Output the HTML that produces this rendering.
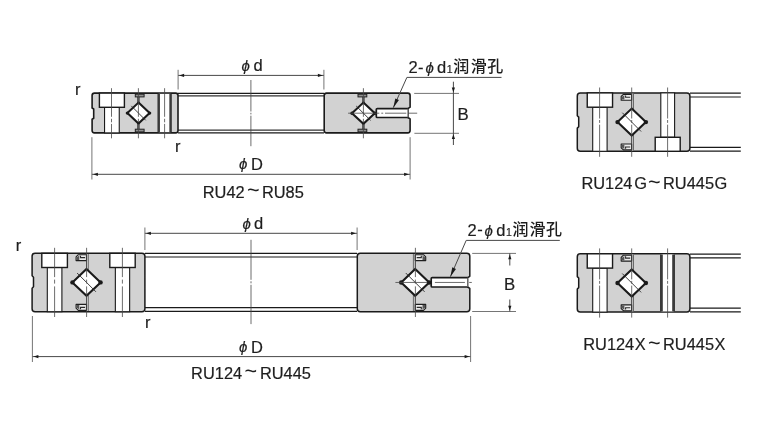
<!DOCTYPE html>
<html lang="zh">
<head>
<meta charset="utf-8">
<title>RU bearing structure</title>
<style>
html,body{margin:0;padding:0;background:#fff;}
body{width:768px;height:431px;overflow:hidden;}
svg{display:block;will-change:transform;}
svg text{font-family:"Liberation Sans","Noto Sans CJK SC",sans-serif;fill:#1e1e1e;stroke:#1e1e1e;stroke-width:0.2px;stroke-linejoin:round;}
</style>
</head>
<body>
<svg width="768" height="431" viewBox="0 0 768 431">
<rect width="768" height="431" fill="#fff"/>
<g id="ru42">
<line x1="178" y1="93.3" x2="324" y2="93.3" stroke="#1a1a1a" stroke-width="1.2"/>
<line x1="178" y1="95.8" x2="324" y2="95.8" stroke="#333" stroke-width="1.2"/>
<line x1="178" y1="130.2" x2="324" y2="130.2" stroke="#333" stroke-width="1.2"/>
<line x1="178" y1="132.8" x2="324" y2="132.8" stroke="#1a1a1a" stroke-width="1.2"/>
<path d="M94.4,93.1 H175.7 Q178,93.1 178,95.4 V130.6 Q178,132.9 175.7,132.9 H94.4 Q92.1,132.9 92.1,130.6 V119.2 L93.7,118.2 V109 L92.1,108 V95.4 Q92.1,93.1 94.4,93.1 Z" fill="#d2d2d2" stroke="#1a1a1a" stroke-width="1.6" stroke-linejoin="round"/>
<rect x="104.55" y="107.3" width="14.7" height="25.6" fill="#fff" stroke="#1a1a1a" stroke-width="1.1"/>
<rect x="99.4" y="93.1" width="25" height="14.2" fill="#fff" stroke="#1a1a1a" stroke-width="1.4"/>
<rect x="158.7" y="93.8" width="11.9" height="38.4" fill="#fff"/>
<line x1="158.7" y1="93.8" x2="158.7" y2="132.2" stroke="#3a3a3a" stroke-width="2.5"/>
<line x1="170.6" y1="93.8" x2="170.6" y2="132.2" stroke="#3a3a3a" stroke-width="2.5"/>
<rect x="137.5" y="96.5" width="1.8" height="33" fill="#8c8c8c"/>
<line x1="137.5" y1="96.5" x2="137.5" y2="129.5" stroke="#3a3a3a" stroke-width="0.7"/>
<line x1="139.3" y1="96.5" x2="139.3" y2="129.5" stroke="#3a3a3a" stroke-width="0.7"/>
<rect x="135.3" y="94.2" width="8.8" height="2.7" fill="#909090" stroke="#222" stroke-width="1"/>
<rect x="135.3" y="129.2" width="8.8" height="2.7" fill="#909090" stroke="#222" stroke-width="1"/>
<path d="M138.5,102.6 L149.6,113.1 L138.5,123.6 L127.4,113.1 Z" fill="#fff" stroke="#1a1a1a" stroke-width="2.1" stroke-linejoin="miter"/>
<circle cx="127.4" cy="113.1" r="1.7" fill="#1a1a1a"/><circle cx="149.6" cy="113.1" r="1.7" fill="#1a1a1a"/>
<line x1="131.3" y1="105.9" x2="145.7" y2="120.3" stroke="#2a2a2a" stroke-width="0.9"/>
<path d="M326.5,93.1 H407.8 Q410.1,93.1 410.1,95.4 V107.2 L407.9,108.6 V117.5 L410.1,118.9 V130.6 Q410.1,132.9 407.8,132.9 H326.5 Q324.2,132.9 324.2,130.6 V95.4 Q324.2,93.1 326.5,93.1 Z" fill="#d2d2d2" stroke="#1a1a1a" stroke-width="1.6" stroke-linejoin="round"/>
<rect x="376.3" y="108.6" width="31.6" height="8.9" fill="#fff"/>
<path d="M407.9,108.6 H377.3 Q376.3,108.6 376.3,109.6 V116.5 Q376.3,117.5 377.3,117.5 H407.9" fill="none" stroke="#1a1a1a" stroke-width="1.7"/>
<line x1="407.9" y1="108.6" x2="407.9" y2="117.5" stroke="#555" stroke-width="0.8"/>
<rect x="362.5" y="96.5" width="1.8" height="33" fill="#8c8c8c"/>
<line x1="362.5" y1="96.5" x2="362.5" y2="129.5" stroke="#3a3a3a" stroke-width="0.7"/>
<line x1="364.3" y1="96.5" x2="364.3" y2="129.5" stroke="#3a3a3a" stroke-width="0.7"/>
<rect x="358" y="94.2" width="8.8" height="2.7" fill="#909090" stroke="#222" stroke-width="1"/>
<rect x="358" y="129.2" width="8.8" height="2.7" fill="#909090" stroke="#222" stroke-width="1"/>
<path d="M363.4,102.6 L374.8,113.2 L363.4,123.8 L352,113.2 Z" fill="#fff" stroke="#1a1a1a" stroke-width="2.1" stroke-linejoin="miter"/>
<circle cx="352" cy="113.2" r="1.7" fill="#1a1a1a"/><circle cx="374.8" cy="113.2" r="1.7" fill="#1a1a1a"/>
<line x1="356.2" y1="106" x2="370.6" y2="120.4" stroke="#2a2a2a" stroke-width="0.9"/>
<line x1="111.5" y1="88.2" x2="111.5" y2="138.3" stroke="#484848" stroke-width="0.8" stroke-dasharray="28.6 2 3.5 1.6 20"/>
<line x1="138.4" y1="88.2" x2="138.4" y2="138.3" stroke="#484848" stroke-width="0.8" stroke-dasharray="28.6 2 3.5 1.6 20"/>
<line x1="164.6" y1="88.2" x2="164.6" y2="138.3" stroke="#484848" stroke-width="0.8" stroke-dasharray="28.6 2 3.5 1.6 20"/>
<line x1="363.4" y1="88.2" x2="363.4" y2="138.3" stroke="#484848" stroke-width="0.8" stroke-dasharray="28.6 2 3.5 1.6 20"/>
<line x1="348.1" y1="113.2" x2="417.2" y2="113.2" stroke="#484848" stroke-width="0.8" stroke-dasharray="31.2 2 1.9 1.8 21.3 1.9 9"/>
<line x1="250.9" y1="80" x2="250.9" y2="146.2" stroke="#484848" stroke-width="0.8" stroke-dasharray="31.5 1.3 1.6 1.3"/>
</g>
<g id="ru124">
<line x1="145" y1="253.3" x2="357" y2="253.3" stroke="#1a1a1a" stroke-width="1.2"/>
<line x1="145" y1="257" x2="357" y2="257" stroke="#1a1a1a" stroke-width="1.2"/>
<line x1="145" y1="307.6" x2="357" y2="307.6" stroke="#1a1a1a" stroke-width="1.2"/>
<line x1="145" y1="311.3" x2="357" y2="311.3" stroke="#1a1a1a" stroke-width="1.2"/>
<path d="M35.1,253.3 H141.9 Q144.9,253.3 144.9,256.3 V308.7 Q144.9,311.7 141.9,311.7 H35.1 Q32.1,311.7 32.1,308.7 V288.2 L33.5,286.8 V277.2 L32.1,275.8 V256.3 Q32.1,253.3 35.1,253.3 Z" fill="#d2d2d2" stroke="#1a1a1a" stroke-width="1.5" stroke-linejoin="round"/>
<rect x="47.3" y="267.5" width="14.6" height="44.2" fill="#fff" stroke="#1a1a1a" stroke-width="1.1"/>
<rect x="41.8" y="253.3" width="25.6" height="14.2" fill="#fff" stroke="#1a1a1a" stroke-width="1.4"/>
<rect x="115.35" y="267.5" width="14.3" height="44.2" fill="#fff" stroke="#1a1a1a" stroke-width="1.1"/>
<rect x="109.8" y="253.3" width="25.4" height="14.2" fill="#fff" stroke="#1a1a1a" stroke-width="1.4"/>
<rect x="86.5" y="254" width="1.8" height="57" fill="#dedede"/>
<line x1="86.5" y1="254" x2="86.5" y2="311" stroke="#3a3a3a" stroke-width="0.7"/>
<line x1="88.3" y1="254" x2="88.3" y2="311" stroke="#3a3a3a" stroke-width="0.7"/>
<path d="M86.5,254.7 H78.3 L76.1,256.8 V260.6 H86.5 Z" fill="#ececec" stroke="#1e1e1e" stroke-width="1.15" stroke-linejoin="round"/>
<path d="M79.3,255.6 L76.8,257.2 V260 H79.3 Z" fill="#555"/>
<path d="M85.1,257.6 H80.5 V255.8" fill="none" stroke="#2a2a2a" stroke-width="1.1"/>
<path d="M86.5,310.3 H78.3 L76.1,308.2 V304.4 H86.5 Z" fill="#ececec" stroke="#1e1e1e" stroke-width="1.15" stroke-linejoin="round"/>
<path d="M79.3,309.4 L76.8,307.8 V305 H79.3 Z" fill="#555"/>
<path d="M85.1,307.4 H80.5 V309.2" fill="none" stroke="#2a2a2a" stroke-width="1.1"/>
<path d="M86.5,269 L100.6,282.4 L86.5,295.8 L72.4,282.4 Z" fill="#fff" stroke="#1a1a1a" stroke-width="2.1" stroke-linejoin="miter"/>
<circle cx="72.4" cy="282.4" r="2.2" fill="#1a1a1a"/><circle cx="100.6" cy="282.4" r="2.2" fill="#1a1a1a"/>
<line x1="77.1" y1="273" x2="95.9" y2="291.8" stroke="#2a2a2a" stroke-width="0.9"/>
<path d="M360.3,253.3 H466.8 Q469.8,253.3 469.8,256.3 V276.3 L467.6,277.7 V287 L469.8,288.4 V308.7 Q469.8,311.7 466.8,311.7 H360.3 Q357.3,311.7 357.3,308.7 V256.3 Q357.3,253.3 360.3,253.3 Z" fill="#d2d2d2" stroke="#1a1a1a" stroke-width="1.5" stroke-linejoin="round"/>
<rect x="431.2" y="277.7" width="36.4" height="9.3" fill="#fff"/>
<path d="M467.6,277.7 H432.2 Q431.2,277.7 431.2,278.7 V286 Q431.2,287 432.2,287 H467.6" fill="none" stroke="#1a1a1a" stroke-width="1.7"/>
<line x1="467.6" y1="277.7" x2="467.6" y2="287" stroke="#555" stroke-width="0.8"/>
<rect x="413.4" y="254" width="1.9" height="57" fill="#dedede"/>
<line x1="413.4" y1="254" x2="413.4" y2="311" stroke="#3a3a3a" stroke-width="0.7"/>
<line x1="415.3" y1="254" x2="415.3" y2="311" stroke="#3a3a3a" stroke-width="0.7"/>
<path d="M415.3,254.7 H423.5 L425.7,256.8 V260.6 H415.3 Z" fill="#ececec" stroke="#1e1e1e" stroke-width="1.15" stroke-linejoin="round"/>
<path d="M422.5,255.6 L425,257.2 V260 H422.5 Z" fill="#555"/>
<path d="M416.7,257.6 H421.3 V255.8" fill="none" stroke="#2a2a2a" stroke-width="1.1"/>
<path d="M415.3,310.3 H423.5 L425.7,308.2 V304.4 H415.3 Z" fill="#ececec" stroke="#1e1e1e" stroke-width="1.15" stroke-linejoin="round"/>
<path d="M422.5,309.4 L425,307.8 V305 H422.5 Z" fill="#555"/>
<path d="M416.7,307.4 H421.3 V309.2" fill="none" stroke="#2a2a2a" stroke-width="1.1"/>
<path d="M415.2,269.05 L429.2,282.45 L415.2,295.85 L401.2,282.45 Z" fill="#fff" stroke="#1a1a1a" stroke-width="2.1" stroke-linejoin="miter"/>
<circle cx="401.2" cy="282.45" r="2.2" fill="#1a1a1a"/><circle cx="429.2" cy="282.45" r="2.2" fill="#1a1a1a"/>
<line x1="405.8" y1="273.05" x2="424.6" y2="291.85" stroke="#2a2a2a" stroke-width="0.9"/>
<line x1="54.6" y1="247.8" x2="54.6" y2="317" stroke="#484848" stroke-width="0.8" stroke-dasharray="29.3 2.5 4 2.8 40"/>
<line x1="86.6" y1="247.8" x2="86.6" y2="317" stroke="#484848" stroke-width="0.8" stroke-dasharray="29.3 2.5 4 2.8 40"/>
<line x1="122.4" y1="247.8" x2="122.4" y2="317" stroke="#484848" stroke-width="0.8" stroke-dasharray="29.3 2.5 4 2.8 40"/>
<line x1="415.4" y1="247.8" x2="415.4" y2="317" stroke="#484848" stroke-width="0.8" stroke-dasharray="29.3 2.5 4 2.8 40"/>
<line x1="395.4" y1="282.45" x2="471.8" y2="282.45" stroke="#484848" stroke-width="0.8" stroke-dasharray="31.6 7.9 30 4.3 2.6"/>
<line x1="251" y1="239.8" x2="251" y2="324.1" stroke="#484848" stroke-width="0.8" stroke-dasharray="40 1.5 2 1.5"/>
</g>
<g id="ru124g">
<line x1="690" y1="93.2" x2="740.8" y2="93.2" stroke="#1a1a1a" stroke-width="1.2"/>
<line x1="690" y1="97" x2="740.8" y2="97" stroke="#1a1a1a" stroke-width="1.2"/>
<line x1="690" y1="147.4" x2="740.8" y2="147.4" stroke="#1a1a1a" stroke-width="1.2"/>
<line x1="690" y1="151.1" x2="740.8" y2="151.1" stroke="#1a1a1a" stroke-width="1.2"/>
<path d="M580.3,92.9 H686.9 Q689.9,92.9 689.9,95.9 V148.3 Q689.9,151.3 686.9,151.3 H580.3 Q577.3,151.3 577.3,148.3 V128.1 L578.7,126.7 V117.1 L577.3,115.7 V95.9 Q577.3,92.9 580.3,92.9 Z" fill="#d2d2d2" stroke="#1a1a1a" stroke-width="1.5" stroke-linejoin="round"/>
<rect x="592.7" y="107.2" width="14.4" height="44.1" fill="#fff" stroke="#1a1a1a" stroke-width="1.1"/>
<rect x="587.25" y="92.9" width="25.3" height="14.3" fill="#fff" stroke="#1a1a1a" stroke-width="1.4"/>
<rect x="660.8" y="92.9" width="13.8" height="44.4" fill="#fff" stroke="#1a1a1a" stroke-width="1.1"/>
<rect x="655.2" y="137.3" width="25" height="14" fill="#fff" stroke="#1a1a1a" stroke-width="1.4"/>
<rect x="631.6" y="93.6" width="1.9" height="57" fill="#dedede"/>
<line x1="631.6" y1="93.6" x2="631.6" y2="150.6" stroke="#3a3a3a" stroke-width="0.7"/>
<line x1="633.5" y1="93.6" x2="633.5" y2="150.6" stroke="#3a3a3a" stroke-width="0.7"/>
<path d="M631.6,94.3 H623.4 L621.2,96.4 V100.2 H631.6 Z" fill="#ececec" stroke="#1e1e1e" stroke-width="1.15" stroke-linejoin="round"/>
<path d="M624.4,95.2 L621.9,96.8 V99.6 H624.4 Z" fill="#555"/>
<path d="M630.2,97.2 H625.6 V95.4" fill="none" stroke="#2a2a2a" stroke-width="1.1"/>
<path d="M631.6,149.9 H623.4 L621.2,147.8 V144 H631.6 Z" fill="#ececec" stroke="#1e1e1e" stroke-width="1.15" stroke-linejoin="round"/>
<path d="M624.4,149 L621.9,147.4 V144.6 H624.4 Z" fill="#555"/>
<path d="M630.2,147 H625.6 V148.8" fill="none" stroke="#2a2a2a" stroke-width="1.1"/>
<path d="M631.7,108.6 L645.9,122.1 L631.7,135.6 L617.5,122.1 Z" fill="#fff" stroke="#1a1a1a" stroke-width="2.1" stroke-linejoin="miter"/>
<circle cx="617.5" cy="122.1" r="2.2" fill="#1a1a1a"/><circle cx="645.9" cy="122.1" r="2.2" fill="#1a1a1a"/>
<line x1="622.3" y1="112.7" x2="641.1" y2="131.5" stroke="#2a2a2a" stroke-width="0.9"/>
<line x1="599.6" y1="87.5" x2="599.6" y2="156.8" stroke="#484848" stroke-width="0.8" stroke-dasharray="31 1.5 2.9 1.8 40"/>
<line x1="631.7" y1="87.5" x2="631.7" y2="156.8" stroke="#484848" stroke-width="0.8" stroke-dasharray="31 1.5 2.9 1.8 40"/>
<line x1="667.6" y1="87.5" x2="667.6" y2="156.8" stroke="#484848" stroke-width="0.8" stroke-dasharray="31 1.5 2.9 1.8 40"/>
</g>
<g id="ru124x">
<line x1="690" y1="254.1" x2="740.8" y2="254.1" stroke="#1a1a1a" stroke-width="1.2"/>
<line x1="690" y1="257.9" x2="740.8" y2="257.9" stroke="#1a1a1a" stroke-width="1.2"/>
<line x1="690" y1="308.2" x2="740.8" y2="308.2" stroke="#1a1a1a" stroke-width="1.2"/>
<line x1="690" y1="311.9" x2="740.8" y2="311.9" stroke="#1a1a1a" stroke-width="1.2"/>
<path d="M580.3,253.8 H686.9 Q689.9,253.8 689.9,256.8 V309.1 Q689.9,312.1 686.9,312.1 H580.3 Q577.3,312.1 577.3,309.1 V289 L578.7,287.6 V278 L577.3,276.6 V256.8 Q577.3,253.8 580.3,253.8 Z" fill="#d2d2d2" stroke="#1a1a1a" stroke-width="1.5" stroke-linejoin="round"/>
<rect x="592.7" y="268.1" width="14.4" height="44" fill="#fff" stroke="#1a1a1a" stroke-width="1.1"/>
<rect x="587.25" y="253.8" width="25.3" height="14.3" fill="#fff" stroke="#1a1a1a" stroke-width="1.4"/>
<rect x="661.4" y="254.5" width="12.2" height="56.9" fill="#fff"/>
<line x1="661.4" y1="254.5" x2="661.4" y2="311.4" stroke="#3a3a3a" stroke-width="2.8"/>
<line x1="673.6" y1="254.5" x2="673.6" y2="311.4" stroke="#3a3a3a" stroke-width="2.8"/>
<rect x="631.6" y="254.5" width="1.9" height="56.9" fill="#dedede"/>
<line x1="631.6" y1="254.5" x2="631.6" y2="311.4" stroke="#3a3a3a" stroke-width="0.7"/>
<line x1="633.5" y1="254.5" x2="633.5" y2="311.4" stroke="#3a3a3a" stroke-width="0.7"/>
<path d="M631.6,255.2 H623.4 L621.2,257.3 V261.1 H631.6 Z" fill="#ececec" stroke="#1e1e1e" stroke-width="1.15" stroke-linejoin="round"/>
<path d="M624.4,256.1 L621.9,257.7 V260.5 H624.4 Z" fill="#555"/>
<path d="M630.2,258.1 H625.6 V256.3" fill="none" stroke="#2a2a2a" stroke-width="1.1"/>
<path d="M631.6,310.7 H623.4 L621.2,308.6 V304.8 H631.6 Z" fill="#ececec" stroke="#1e1e1e" stroke-width="1.15" stroke-linejoin="round"/>
<path d="M624.4,309.8 L621.9,308.2 V305.4 H624.4 Z" fill="#555"/>
<path d="M630.2,307.8 H625.6 V309.6" fill="none" stroke="#2a2a2a" stroke-width="1.1"/>
<path d="M631.7,269.45 L645.9,282.95 L631.7,296.45 L617.5,282.95 Z" fill="#fff" stroke="#1a1a1a" stroke-width="2.1" stroke-linejoin="miter"/>
<circle cx="617.5" cy="282.95" r="2.2" fill="#1a1a1a"/><circle cx="645.9" cy="282.95" r="2.2" fill="#1a1a1a"/>
<line x1="622.3" y1="273.55" x2="641.1" y2="292.35" stroke="#2a2a2a" stroke-width="0.9"/>
<line x1="599.6" y1="248.4" x2="599.6" y2="317.6" stroke="#484848" stroke-width="0.8" stroke-dasharray="31 1.5 2.9 1.8 40"/>
<line x1="631.7" y1="248.4" x2="631.7" y2="317.6" stroke="#484848" stroke-width="0.8" stroke-dasharray="31 1.5 2.9 1.8 40"/>
<line x1="667.6" y1="248.4" x2="667.6" y2="317.6" stroke="#484848" stroke-width="0.8" stroke-dasharray="31 1.5 2.9 1.8 40"/>
</g>
<g id="dimensions">
<line x1="178.1" y1="75.4" x2="323.9" y2="75.4" stroke="#484848" stroke-width="1.0"/>
<path d="M179.3,75.4 L184.1,73.8 L184.1,77 Z" fill="#1a1a1a"/>
<path d="M322.7,75.4 L317.9,77 L317.9,73.8 Z" fill="#1a1a1a"/>
<line x1="178.1" y1="69.8" x2="178.1" y2="89.5" stroke="#5c5c5c" stroke-width="0.85"/>
<line x1="323.9" y1="69.8" x2="323.9" y2="89.5" stroke="#5c5c5c" stroke-width="0.85"/>
<line x1="91.9" y1="174.3" x2="410.1" y2="174.3" stroke="#484848" stroke-width="1.0"/>
<path d="M93.1,174.3 L97.9,172.7 L97.9,175.9 Z" fill="#1a1a1a"/>
<path d="M408.9,174.3 L404.1,175.9 L404.1,172.7 Z" fill="#1a1a1a"/>
<line x1="91.9" y1="137.2" x2="91.9" y2="179.5" stroke="#5c5c5c" stroke-width="0.85"/>
<line x1="410.1" y1="137.2" x2="410.1" y2="179.5" stroke="#5c5c5c" stroke-width="0.85"/>
<line x1="144.9" y1="233.3" x2="357.1" y2="233.3" stroke="#484848" stroke-width="1.0"/>
<path d="M146.1,233.3 L150.9,231.7 L150.9,234.9 Z" fill="#1a1a1a"/>
<path d="M355.9,233.3 L351.1,234.9 L351.1,231.7 Z" fill="#1a1a1a"/>
<line x1="144.9" y1="227.5" x2="144.9" y2="250" stroke="#5c5c5c" stroke-width="0.85"/>
<line x1="357.1" y1="227.5" x2="357.1" y2="250" stroke="#5c5c5c" stroke-width="0.85"/>
<line x1="32.4" y1="356.6" x2="470.6" y2="356.6" stroke="#484848" stroke-width="1.0"/>
<path d="M33.6,356.6 L38.4,355 L38.4,358.2 Z" fill="#1a1a1a"/>
<path d="M469.4,356.6 L464.6,358.2 L464.6,355 Z" fill="#1a1a1a"/>
<line x1="32.4" y1="316" x2="32.4" y2="362" stroke="#5c5c5c" stroke-width="0.85"/>
<line x1="470.6" y1="316" x2="470.6" y2="362" stroke="#5c5c5c" stroke-width="0.85"/>
<line x1="414.2" y1="93.4" x2="459" y2="93.4" stroke="#5c5c5c" stroke-width="0.85"/>
<line x1="414.4" y1="133.3" x2="459" y2="133.3" stroke="#5c5c5c" stroke-width="0.85"/>
<line x1="453.4" y1="81.7" x2="453.4" y2="145" stroke="#484848" stroke-width="1.0"/>
<path d="M453.4,92.4 L451.8,87.6 L455,87.6 Z" fill="#1a1a1a"/>
<path d="M453.4,134.2 L455,139 L451.8,139 Z" fill="#1a1a1a"/>
<line x1="472.2" y1="253.4" x2="516" y2="253.4" stroke="#5c5c5c" stroke-width="0.85"/>
<line x1="472.2" y1="311.5" x2="516" y2="311.5" stroke="#5c5c5c" stroke-width="0.85"/>
<line x1="509.8" y1="253.4" x2="509.8" y2="265.5" stroke="#484848" stroke-width="1.0"/>
<line x1="509.8" y1="299.5" x2="509.8" y2="311.5" stroke="#484848" stroke-width="1.0"/>
<path d="M509.8,254.4 L511.4,259.2 L508.2,259.2 Z" fill="#1a1a1a"/>
<path d="M509.8,310.5 L508.2,305.7 L511.4,305.7 Z" fill="#1a1a1a"/>
<path d="M501.5,77.4 H406.9 L393.3,107.7" fill="none" stroke="#484848" stroke-width="1.0"/>
<path d="M393.3,107.7 L395.28,98.4 L398.93,100.03 Z" fill="#1a1a1a"/>
<path d="M559.8,240.4 H466.2 L450.4,276.7" fill="none" stroke="#484848" stroke-width="1.0"/>
<path d="M450.4,276.7 L452.28,267.37 L455.95,268.97 Z" fill="#1a1a1a"/>
</g>
<g id="labels">
<text><tspan x="202.73" y="197.82" font-size="16.4">RU42</tspan><tspan x="247.1" y="197.19" font-size="21.5" stroke="none">~</tspan><tspan x="261.93" y="197.82" font-size="16.4">RU85</tspan></text>
<text><tspan x="191.12" y="378.73" font-size="16.4">RU124</tspan><tspan x="244.4" y="378.29" font-size="21.5" stroke="none">~</tspan><tspan x="259.93" y="378.73" font-size="16.4">RU445</tspan></text>
<text><tspan x="581.42" y="189.42" font-size="16.4">RU124</tspan><tspan x="634.22" y="189.42" font-size="16.4">G</tspan><tspan x="648" y="188.89" font-size="21.5" stroke="none">~</tspan><tspan x="663.02" y="189.42" font-size="16.4">RU445</tspan><tspan x="714.42" y="189.42" font-size="16.4">G</tspan></text>
<text><tspan x="583.22" y="350.23" font-size="16.4">RU124</tspan><tspan x="634.82" y="350.35" font-size="16.4">X</tspan><tspan x="648" y="349.89" font-size="21.5" stroke="none">~</tspan><tspan x="663.02" y="350.23" font-size="16.4">RU445</tspan><tspan x="714.52" y="350.35" font-size="16.4">X</tspan></text>
<text><tspan x="241.5" y="70.72" font-size="15" font-style="italic">ϕ</tspan><tspan x="253.55" y="71.12" font-size="16.5">d</tspan></text>
<text><tspan x="238.9" y="169.42" font-size="15" font-style="italic">ϕ</tspan><tspan x="251.03" y="169.95" font-size="16.5">D</tspan></text>
<text><tspan x="242.4" y="228.92" font-size="15" font-style="italic">ϕ</tspan><tspan x="254.05" y="229.32" font-size="16.5">d</tspan></text>
<text><tspan x="239.1" y="352.33" font-size="15" font-style="italic">ϕ</tspan><tspan x="251.12" y="352.95" font-size="16.5">D</tspan></text>
<text><tspan x="408.43" y="73.35" font-size="16.5">2</tspan><tspan x="417.95" y="72.97" font-size="16.5">-</tspan><tspan x="425.6" y="72.72" font-size="15" font-style="italic">ϕ</tspan><tspan x="437.05" y="73.22" font-size="16.5">d</tspan><tspan x="446.65" y="73.35" font-size="10.5">1</tspan><tspan x="453.28" y="72" font-size="16" stroke="none" font-weight="500">润</tspan><tspan x="470.75" y="72" font-size="16" stroke="none" font-weight="500">滑</tspan><tspan x="487.28" y="72" font-size="16" stroke="none" font-weight="500">孔</tspan></text>
<text><tspan x="467.62" y="235.85" font-size="16.5">2</tspan><tspan x="477.15" y="235.47" font-size="16.5">-</tspan><tspan x="484.6" y="235.53" font-size="15" font-style="italic">ϕ</tspan><tspan x="496.25" y="235.72" font-size="16.5">d</tspan><tspan x="506.05" y="235.85" font-size="10.5">1</tspan><tspan x="512.48" y="234.8" font-size="16" stroke="none" font-weight="500">润</tspan><tspan x="529.55" y="234.8" font-size="16" stroke="none" font-weight="500">滑</tspan><tspan x="546.07" y="234.8" font-size="16" stroke="none" font-weight="500">孔</tspan></text>
<text><tspan x="457.43" y="120.25" font-size="16.8">B</tspan></text>
<text><tspan x="503.93" y="290.15" font-size="16.8">B</tspan></text>
<text><tspan x="74.97" y="95.35" font-size="16.5">r</tspan></text>
<text><tspan x="174.88" y="152.35" font-size="16.5">r</tspan></text>
<text><tspan x="15.78" y="251.15" font-size="16.5">r</tspan></text>
<text><tspan x="144.98" y="328.25" font-size="16.5">r</tspan></text>
</g>
</svg>
</body>
</html>
